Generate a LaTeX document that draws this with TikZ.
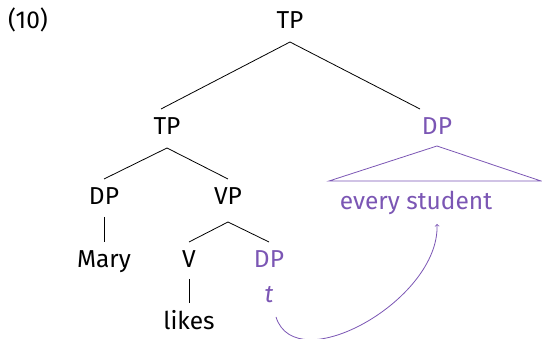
\documentclass[tikz,border=0pt]{standalone}
\usepackage{fontspec}
\setmainfont{Fira Sans}
\usetikzlibrary{calc}
\definecolor{mov}{HTML}{7B56B4}
\begin{document}
\begin{tikzpicture}[x=1pt,y=-1pt,
  lbl/.style={anchor=base,inner sep=0pt,font=\fontsize{24.5}{28}\selectfont},
  pur/.style={text=mov},
  br/.style={line width=0.8pt},
  pbr/.style={line width=0.8pt,draw=mov}]
\useasboundingbox (0,0) rectangle (542,339);
\node[lbl,anchor=base west] (ex) at (8,29) {(10)};
\node[lbl] (tp0) at (290,29) {TP};
\node[lbl] (tp1) at (167,135) {TP};
\node[lbl,pur] (dp2) at (437,135) {DP};
\node[lbl] (dpm) at (104,205) {DP};
\node[lbl] (vp) at (228,205) {VP};
\node[lbl] (mary) at (104,268) {Mary};
\node[lbl] (v) at (189,268) {V};
\node[lbl,pur] (dpt) at (269,268) {DP};
\node[lbl,pur] (t) at (269,303) {\itshape t};
\node[lbl] (likes) at (189,330) {likes};
\node[lbl,pur] (es) at (416,210) {every student};
% branches
\draw[br] ($(tp0.base)+(0,13)$) -- ($(tp1.base)+(-6,-26)$);
\draw[br] ($(tp0.base)+(0,13)$) -- ($(dp2.base)+(-17,-26)$);
\draw[br] ($(tp1.base)+(0,13)$) -- ($(dpm.base)+(0,-26)$);
\draw[br] ($(tp1.base)+(0,13)$) -- ($(vp.base)+(0,-26)$);
\draw[br] ($(dpm.base)+(0,12)$) -- ($(mary.base)+(0,-26)$);
\draw[br] ($(vp.base)+(0,17)$) -- ($(v.base)+(0,-26)$);
\draw[br] ($(vp.base)+(0,17)$) -- ($(dpt.base)+(0,-26)$);
\draw[br] ($(v.base)+(0,11)$) -- ($(likes.base)+(0,-27)$);
% triangle
\draw[pbr] ($(dp2.base)+(0,11)$) -- ($(es.base)+(-87,-29)$) -- ($(es.base)+(125,-29)$) -- cycle;
% movement arrow
\draw[pbr,->] ($(t.base)+(7,14)$) .. controls (296,380) and (440,300) .. ($(es.base)+(21,14)$);
\end{tikzpicture}
\end{document}
